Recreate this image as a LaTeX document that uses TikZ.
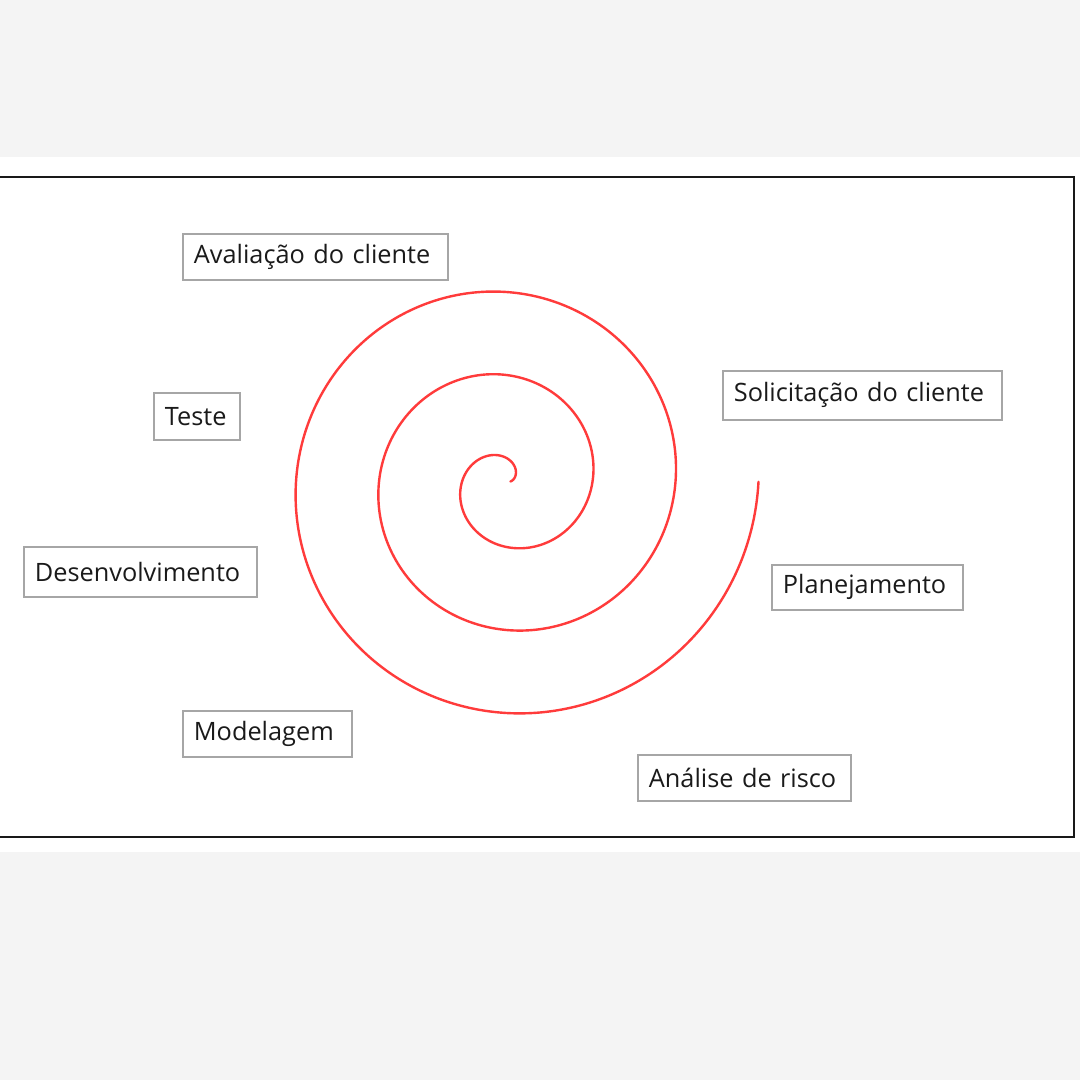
\documentclass[tikz,border=0pt]{standalone}
\usepackage{fontspec}
\setmainfont{Open Sans}
\definecolor{pagegray}{HTML}{F4F4F4}
\definecolor{boxgray}{HTML}{A6A6A6}
\definecolor{spiralred}{HTML}{FF3B3B}
\definecolor{inktext}{HTML}{1A1A1A}
\begin{document}
\begin{tikzpicture}[x=1pt,y=-1pt,
  label box/.style={draw=boxgray, line width=1.8pt, fill=white, anchor=north west,
    inner xsep=11pt, inner ysep=0pt, align=left, text=inktext,
    font=\fontsize{25.3}{30}\selectfont},
  label box/.append style={execute at begin node=\mbox\bgroup, execute at end node=\egroup}]
  % page and frame
  \useasboundingbox (0,0) rectangle (1080,1080);
  \fill[pagegray] (0,0) rectangle (1080,1080);
  \fill[white] (0,157) rectangle (1080,852);
  \draw[line width=2pt, black!90] (-5,177) rectangle (1074,837);

  % Archimedean spiral, about 83px between turns
  \draw[spiralred, line width=2.4pt, line cap=round]
    plot[domain=4:1080, samples=600, smooth, variable=\t]
    ({506.5 + (0.23056*\t + 3.0)*cos(\t)}, {481.75 - (0.23056*\t + 3.0)*sin(\t)});

  % stage labels
  \node[label box, text width=243pt, minimum height=46pt] (aval) at (182,233) {Avaliação do cliente};
  \node[label box, text width=257pt, minimum height=49pt] (solic) at (722,370) {Solicitação do cliente};
  \node[label box, text width=64pt, minimum height=47pt] (teste) at (153,392) {Teste};
  \node[label box, text width=211pt, minimum height=50pt] (desenv) at (23,546) {Desenvolvimento};
  \node[label box, text width=169pt, minimum height=45pt] (plan) at (771,564) {Planejamento};
  \node[label box, text width=147pt, minimum height=46pt] (model) at (182,710) {Modelagem};
  \node[label box, text width=191pt, minimum height=46pt] (risco) at (637,754) {Análise de risco};
\end{tikzpicture}
\end{document}
